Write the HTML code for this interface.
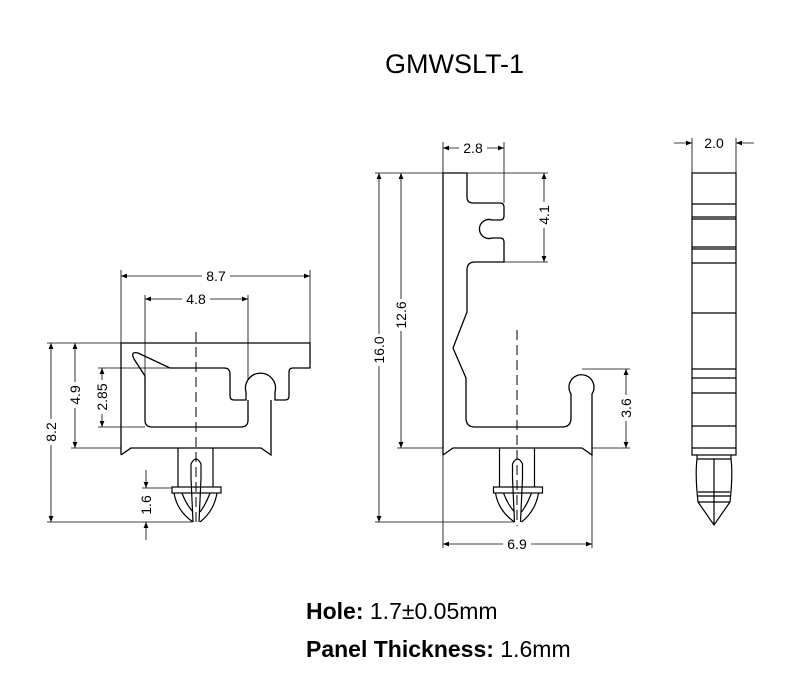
<!DOCTYPE html>
<html><head><style>
html,body{margin:0;padding:0;background:#fff;}
svg{display:block;}
text{font-family:"Liberation Sans",Arial,sans-serif;fill:#000;}
.d{font-size:14px;}
</style></head><body>
<svg width="800" height="700" viewBox="0 0 800 700" xmlns="http://www.w3.org/2000/svg">
<defs>
<marker id="a" viewBox="0 0 10 10" refX="10" refY="5" markerWidth="9" markerHeight="6" orient="auto-start-reverse" markerUnits="userSpaceOnUse"><path d="M0,1 L10,5 L0,9 z" fill="#000"/></marker>
<g id="pin" fill="none" stroke="#000" stroke-width="1.2">
<line x1="-18" y1="0" x2="-18" y2="39"/><line x1="17" y1="0" x2="17" y2="39"/>
<rect x="-24" y="39" width="49" height="6"/>
<path d="M-22,45 Q-19,63 -3,74 M21,45 Q18,63 4,74"/>
<path d="M-14,45 Q-10,56 -3,64 M14,45 Q10,56 4,64"/>
<path d="M-3,74 L-5,30 L-5,16 Q0,6 5,16 L5,30 L3,74"/>
</g>
</defs>
<text x="385" y="73" style="font-size:27px">GMWSLT-1</text>

<!-- LEFT VIEW -->
<g fill="none" stroke="#000" stroke-width="1.3">
<path d="M121,455 L121,343 L310,343 L310,368 L293,368 Q289,368 289,372 L289,396 Q289,400 285,400 L275,400 L275,392 A15,15 0 1 0 246,392 L246,400 L234,400 Q230,400 230,396 L230,374 Q230,368 224,368 L170,368 L138,353 Q130,351 134,359 L145,376 L145,420 Q145,427 152,427 L241,427 Q248,427 248,420 L248,400"/>
<path d="M271,400 L271,455 L261,448 L131,448 L121,455"/>
</g>
<use href="#pin" x="196" y="448"/>
<line x1="196" y1="332" x2="196" y2="526" stroke="#000" stroke-width="1" stroke-dasharray="10,5"/>
<g stroke="#000" stroke-width="0.8" fill="none">
<line x1="121" y1="270" x2="121" y2="343"/><line x1="310" y1="270" x2="310" y2="343"/>
<line x1="145" y1="295" x2="145" y2="378"/><line x1="248" y1="295" x2="248" y2="380"/>
<line x1="47" y1="343" x2="121" y2="343"/><line x1="47" y1="522" x2="192" y2="522"/>
<line x1="71" y1="448" x2="121" y2="448"/>
<line x1="98" y1="368" x2="170" y2="368"/><line x1="98" y1="427" x2="145" y2="427"/>
<line x1="142" y1="488" x2="172" y2="488"/>
<line x1="121" y1="276" x2="310" y2="276" marker-start="url(#a)" marker-end="url(#a)"/>
<line x1="145" y1="299" x2="248" y2="299" marker-start="url(#a)" marker-end="url(#a)"/>
<line x1="51" y1="343" x2="51" y2="522" marker-start="url(#a)" marker-end="url(#a)"/>
<line x1="75" y1="343" x2="75" y2="448" marker-start="url(#a)" marker-end="url(#a)"/>
<line x1="102" y1="368" x2="102" y2="427" marker-start="url(#a)" marker-end="url(#a)"/>
<line x1="146" y1="470" x2="146" y2="488" marker-end="url(#a)"/>
<line x1="146" y1="540" x2="146" y2="522" marker-end="url(#a)"/>
</g>
<g class="d">
<rect x="202" y="268" width="28" height="15" fill="#fff"/><text x="216" y="281" text-anchor="middle">8.7</text>
<rect x="182" y="291" width="28" height="15" fill="#fff"/><text x="196" y="304" text-anchor="middle">4.8</text>
<g transform="translate(56,432) rotate(-90)"><rect x="-13" y="-12" width="26" height="15" fill="#fff"/><text text-anchor="middle">8.2</text></g>
<g transform="translate(80,395) rotate(-90)"><rect x="-13" y="-12" width="26" height="15" fill="#fff"/><text text-anchor="middle">4.9</text></g>
<g transform="translate(107,397) rotate(-90)"><rect x="-17" y="-12" width="34" height="15" fill="#fff"/><text text-anchor="middle">2.85</text></g>
<g transform="translate(151,505) rotate(-90)"><text text-anchor="middle">1.6</text></g>
</g>

<!-- MIDDLE VIEW -->
<g fill="none" stroke="#000" stroke-width="1.3">
<path d="M443,455 L443,173 L467,173 L467,197 Q467,203 473,203 L500,203 Q504,203 504,207 L504,216 Q504,220 500,220 L492,220 A9.5,9.5 0 1 0 492,238 L500,238 Q504,238 504,242 L504,262 L475,262 Q467,262 467,270 L467,312 L453,348 L466,378 L466,418 Q466,427 475,427 L562,427 Q571,427 571,418 L571,394 A12.5,12.5 0 1 1 592,394 L592,455 L582,448 L453,448 L443,455"/>
</g>
<use href="#pin" x="517.5" y="448"/>
<line x1="517" y1="330" x2="517" y2="526" stroke="#000" stroke-width="1" stroke-dasharray="10,5"/>
<g stroke="#000" stroke-width="0.8" fill="none">
<line x1="443" y1="142" x2="443" y2="173"/><line x1="504" y1="142" x2="504" y2="203"/>
<line x1="375" y1="173" x2="548" y2="173"/>
<line x1="504" y1="262" x2="548" y2="262"/>
<line x1="375" y1="522" x2="515" y2="522"/>
<line x1="397" y1="448" x2="443" y2="448"/>
<line x1="582" y1="369" x2="630" y2="369"/><line x1="592" y1="448" x2="630" y2="448"/>
<line x1="443" y1="455" x2="443" y2="548"/><line x1="592" y1="455" x2="592" y2="548"/>
<line x1="443" y1="148" x2="504" y2="148" marker-start="url(#a)" marker-end="url(#a)"/>
<line x1="379" y1="173" x2="379" y2="522" marker-start="url(#a)" marker-end="url(#a)"/>
<line x1="401" y1="173" x2="401" y2="448" marker-start="url(#a)" marker-end="url(#a)"/>
<line x1="544" y1="173" x2="544" y2="262" marker-start="url(#a)" marker-end="url(#a)"/>
<line x1="626" y1="369" x2="626" y2="448" marker-start="url(#a)" marker-end="url(#a)"/>
<line x1="443" y1="544" x2="592" y2="544" marker-start="url(#a)" marker-end="url(#a)"/>
</g>
<g class="d">
<rect x="459" y="141" width="28" height="15" fill="#fff"/><text x="473" y="153" text-anchor="middle">2.8</text>
<g transform="translate(384,350) rotate(-90)"><rect x="-16" y="-12" width="32" height="15" fill="#fff"/><text text-anchor="middle">16.0</text></g>
<g transform="translate(406,315) rotate(-90)"><rect x="-16" y="-12" width="32" height="15" fill="#fff"/><text text-anchor="middle">12.6</text></g>
<g transform="translate(549,215) rotate(-90)"><rect x="-13" y="-12" width="26" height="15" fill="#fff"/><text text-anchor="middle">4.1</text></g>
<g transform="translate(631,408) rotate(-90)"><rect x="-13" y="-12" width="26" height="15" fill="#fff"/><text text-anchor="middle">3.6</text></g>
<rect x="503" y="537" width="28" height="15" fill="#fff"/><text x="517" y="549" text-anchor="middle">6.9</text>
</g>

<!-- RIGHT VIEW -->
<g fill="none" stroke="#000" stroke-width="1.2">
<rect x="692" y="173" width="44" height="282"/>
<path d="M692,204H736 M692,217H736 M692,247H736 M692,263H736 M692,313H736 M692,369H736 M692,378H736 M692,393H736 M692,426H736 M692,448H736"/>
<path d="M692,219H736 M692,249H736" stroke-width="1.2"/>
<path d="M697,455 L697,459 M731,455 L731,459 M697,459 L731,459 M697,459 Q695,475 698,502 L714,525 L730,502 Q733,475 731,459 M698,492 H730 M698,496 H730 M698,502 H730 M714,459 V525"/>
</g>
<g stroke="#000" stroke-width="0.8" fill="none">
<line x1="692" y1="138" x2="692" y2="173"/><line x1="736" y1="138" x2="736" y2="173"/>
<line x1="674" y1="143" x2="692" y2="143" marker-end="url(#a)"/>
<line x1="754" y1="143" x2="736" y2="143" marker-end="url(#a)"/>
</g>
<text class="d" x="714" y="148" text-anchor="middle">2.0</text>

<text x="306" y="619" style="font-size:23px"><tspan font-weight="bold">Hole:</tspan> 1.7±0.05mm</text>
<text x="306" y="657" style="font-size:23px"><tspan font-weight="bold">Panel Thickness:</tspan> 1.6mm</text>
</svg>
</body></html>
